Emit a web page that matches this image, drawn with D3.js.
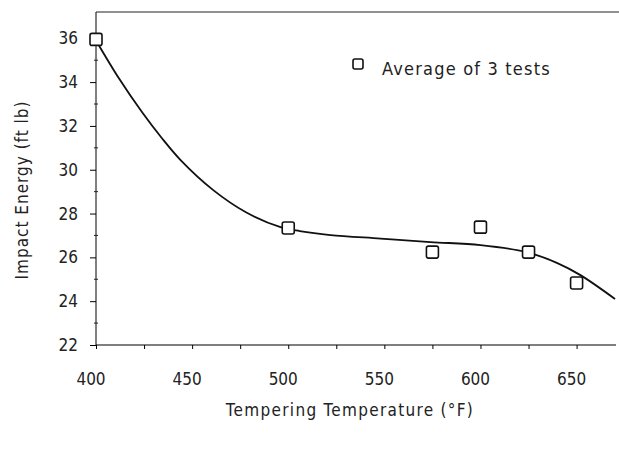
<!DOCTYPE html>
<html>
<head>
<meta charset="utf-8">
<script src="https://cdn.jsdelivr.net/npm/d3@7"></script>
<style>
  body { margin: 0; background: #fff; }
  svg text { font-family: "Liberation Sans Narrow", "DejaVu Sans Condensed", sans-serif; fill: #222; }
</style>
</head>
<body>
<svg class="chart"></svg>
<script>
const size = {w: 619, h: 451};

// measured test averages
const temps = [400, 500, 575, 600, 625, 650];
const energy = [35.95, 27.34, 26.24, 27.38, 26.24, 24.83];

// fitted curve
const curveTemps = [400, 412, 424, 434, 444, 461, 478, 496, 506, 522, 548, 574, 600, 624, 640, 652, 670];
const curveEnergy = [35.9, 34.16, 32.62, 31.47, 30.44, 29.07, 28.06, 27.38, 27.2, 27.02, 26.86, 26.7, 26.56, 26.24, 25.74, 25.19, 24.1];

const xTicks = [400, 450, 500, 550, 600, 650];
const yTicks = [22, 24, 26, 28, 30, 32, 34, 36];
const legendLabel = 'Average of 3 tests';

const svg = d3.select('svg.chart')
    .attr('width', size.w)
    .attr('height', size.h);

const x = d3.scaleLinear().domain([400, 670.5]).range([96, 616]);
const y = d3.scaleLinear().domain([22, 37.2]).range([345, 12]);

const g = svg.append('g');

// x axis, minor ticks every 25 degrees
const xAxis = g.append('g')
    .attr('transform', `translate(0,${y(22)})`)
    .call(d3.axisBottom(x).tickValues(d3.range(400, 671, 25)).tickSize(4).tickFormat(''));
xAxis.select('.domain').attr('d', `M${x(400)},0H${x(670.5)}`);

xAxis.selectAll('text.lbl')
    .data(xTicks)
    .join('text')
    .classed('lbl', true)
    .attr('x', d => x(d) - 5)
    .attr('y', 40)
    .attr('text-anchor', 'middle')
    .style('font-size', '17px')
    .text(d => d);

// y axis
const yAxis = g.append('g')
    .attr('transform', `translate(${x(400)},0)`)
    .call(d3.axisLeft(y).tickValues(yTicks).tickSize(6).tickFormat(d3.format('d')));
yAxis.select('.domain').attr('d', `M0,${y(22)}V${y(37.2)}`);
yAxis.selectAll('.tick text').style('font-size', '17px').attr('x', -18);
yAxis.selectAll('line.minor')
    .data(d3.range(23, 37, 2))
    .join('line')
    .classed('minor', true)
    .attr('x1', -2).attr('x2', 2)
    .attr('y1', d => y(d)).attr('y2', d => y(d))
    .attr('stroke', '#222');

// top frame line
g.append('line')
    .attr('x1', x(400)).attr('x2', 619)
    .attr('y1', y(37.2)).attr('y2', y(37.2))
    .attr('stroke', '#222');

// fitted curve
const line = d3.line()
    .x(d => x(d[0]))
    .y(d => y(d[1]))
    .curve(d3.curveCatmullRom.alpha(0.5));

g.append('path')
    .datum(d3.zip(curveTemps, curveEnergy))
    .attr('d', line)
    .attr('fill', 'none')
    .attr('stroke', '#111')
    .attr('stroke-width', 1.8);

// points
const sq = 12;
g.selectAll('rect.pt')
    .data(d3.zip(temps, energy))
    .join('rect')
    .classed('pt', true)
    .attr('x', d => x(d[0]) - sq / 2)
    .attr('y', d => y(d[1]) - sq / 2)
    .attr('width', sq)
    .attr('height', sq)
    .attr('rx', 2)
    .attr('fill', '#fff')
    .attr('stroke', '#111')
    .attr('stroke-width', 1.6);

// legend
g.append('rect')
    .attr('x', 353).attr('y', 59)
    .attr('width', 10).attr('height', 10)
    .attr('rx', 2)
    .attr('fill', '#fff')
    .attr('stroke', '#111')
    .attr('stroke-width', 1.6);
g.append('text')
    .attr('x', 382).attr('y', 75)
    .style('font-size', '18px')
    .style('letter-spacing', '1.2px')
    .text(legendLabel);

// axis titles
svg.append('text')
    .attr('x', 350).attr('y', 416)
    .attr('text-anchor', 'middle')
    .style('font-size', '17px')
    .style('letter-spacing', '1.3px')
    .text('Tempering Temperature (°F)');

svg.append('text')
    .attr('transform', 'translate(28,190) rotate(-90)')
    .attr('text-anchor', 'middle')
    .style('font-size', '17px')
    .style('letter-spacing', '1px')
    .text('Impact Energy (ft lb)');
</script>
</body>
</html>
